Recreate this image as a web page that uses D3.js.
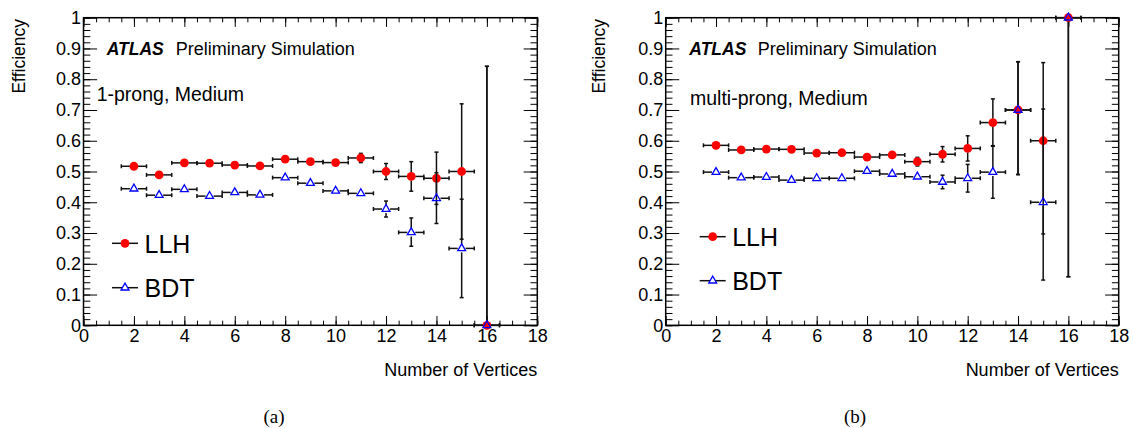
<!DOCTYPE html>
<html>
<head>
<meta charset="utf-8">
<script src="https://cdn.jsdelivr.net/npm/d3@7/dist/d3.min.js"></script>
<style>
  html, body { margin: 0; padding: 0; background: #fff; }
  svg { display: block; }
  text { font-family: "Liberation Sans", Arial, sans-serif; fill: #000; }
</style>
</head>
<body>
<svg id="chart" width="1133" height="428"></svg>
<script>
// Number of reconstructed vertices (bin centres, bin width 1)
const vertices = [2, 3, 4, 5, 6, 7, 8, 9, 10, 11, 12, 13, 14, 15, 16];

// 1-prong, Medium working point
const llhOneProng        = [0.517, 0.489, 0.528, 0.527, 0.521, 0.518, 0.540, 0.532, 0.529, 0.544, 0.500, 0.484, 0.478, 0.500, 0.0];
const llhOneProngErrUp   = [0.006, 0.006, 0.006, 0.006, 0.006, 0.006, 0.007, 0.008, 0.009, 0.015, 0.026, 0.048, 0.085, 0.220, 0.842];
const llhOneProngErrDown = [0.006, 0.006, 0.006, 0.006, 0.006, 0.006, 0.007, 0.008, 0.009, 0.015, 0.026, 0.048, 0.085, 0.220, 0.0];
const bdtOneProng        = [0.444, 0.423, 0.442, 0.420, 0.432, 0.424, 0.480, 0.462, 0.437, 0.429, 0.378, 0.302, 0.413, 0.250, 0.0];
const bdtOneProngErrUp   = [0.006, 0.006, 0.006, 0.006, 0.006, 0.007, 0.008, 0.009, 0.010, 0.013, 0.026, 0.047, 0.083, 0.160, 0.842];
const bdtOneProngErrDown = [0.006, 0.006, 0.006, 0.006, 0.006, 0.007, 0.008, 0.009, 0.010, 0.013, 0.026, 0.045, 0.082, 0.160, 0.0];

// multi-prong, Medium working point
const llhMultiProng        = [0.585, 0.570, 0.573, 0.572, 0.560, 0.561, 0.547, 0.554, 0.532, 0.556, 0.575, 0.659, 0.700, 0.600, 1.0];
const llhMultiProngErrUp   = [0.006, 0.006, 0.006, 0.006, 0.007, 0.007, 0.008, 0.010, 0.014, 0.025, 0.041, 0.077, 0.157, 0.254, 0.0];
const llhMultiProngErrDown = [0.006, 0.006, 0.006, 0.006, 0.007, 0.007, 0.008, 0.010, 0.014, 0.025, 0.041, 0.077, 0.210, 0.303, 0.842];
const bdtMultiProng        = [0.498, 0.480, 0.482, 0.472, 0.478, 0.478, 0.501, 0.492, 0.483, 0.466, 0.478, 0.498, 0.700, 0.400, 1.0];
const bdtMultiProngErrUp   = [0.006, 0.006, 0.006, 0.006, 0.006, 0.006, 0.008, 0.009, 0.011, 0.022, 0.045, 0.086, 0.157, 0.303, 0.0];
const bdtMultiProngErrDown = [0.006, 0.006, 0.006, 0.006, 0.006, 0.006, 0.008, 0.009, 0.011, 0.022, 0.045, 0.085, 0.210, 0.253, 0.842];

// Axis ticks
const xTicks = [0, 2, 4, 6, 8, 10, 12, 14, 16, 18];
const xMinorTicks = d3.range(0, 18.001, 0.5);
const yTicks = [0, 0.1, 0.2, 0.3, 0.4, 0.5, 0.6, 0.7, 0.8, 0.9, 1];
const yMinorTicks = d3.range(0, 1.0001, 0.02);

const series = {
  a: {
    label: "1-prong, Medium", caption: "(a)",
    llh: { v: llhOneProng, up: llhOneProngErrUp, dn: llhOneProngErrDown },
    bdt: { v: bdtOneProng, up: bdtOneProngErrUp, dn: bdtOneProngErrDown }
  },
  b: {
    label: "multi-prong, Medium", caption: "(b)",
    llh: { v: llhMultiProng, up: llhMultiProngErrUp, dn: llhMultiProngErrDown },
    bdt: { v: bdtMultiProng, up: bdtMultiProngErrUp, dn: bdtMultiProngErrDown }
  }
};

const svg = d3.select("#chart");

const layout = [
  { key: "a", left: 83.5, right: 537.3, titleX: 25, atlasX: 106.7, prelimX: 175.7, labelX: 96.7, labelY: 101,
    legX: 125, legY: [243.3, 287.7], captionX: 274 },
  { key: "b", left: 665.7, right: 1118.7, titleX: 605, atlasX: 689.3, prelimX: 757.7, labelX: 690, labelY: 104.5,
    legX: 712.7, legY: [236.7, 280.7], captionX: 855 }
];
const plotTop = 17.7, plotBottom = 325.3;

const fmtY = d => String(+d.toFixed(1));

function drawPanel(cfg) {
  const s = series[cfg.key];
  const x = d3.scaleLinear().domain([0, 18]).range([cfg.left, cfg.right]);
  const y = d3.scaleLinear().domain([0, 1]).range([plotBottom, plotTop]);
  const w = cfg.right - cfg.left, h = plotBottom - plotTop;
  const yMaj = 0.03 * w, xMaj = 0.03 * h;

  const g = svg.append("g");

  // Ticks on all four sides, pointing into the frame
  const styleAxis = sel => {
    sel.select(".domain").remove();
    sel.selectAll("line").attr("stroke", "#000").attr("stroke-width", 1);
    sel.selectAll("text").style("font-family", "Liberation Sans, Arial, sans-serif")
      .style("font-size", "18px").attr("fill", "#000");
  };
  g.append("g").attr("transform", `translate(${cfg.left},0)`)
    .call(d3.axisLeft(y).tickValues(yMinorTicks).tickSize(-yMaj / 2).tickFormat("")).call(styleAxis);
  g.append("g").attr("transform", `translate(${cfg.left},0)`)
    .call(d3.axisLeft(y).tickValues(yTicks).tickSize(-yMaj).tickPadding(2.5).tickFormat(fmtY)).call(styleAxis);
  g.append("g").attr("transform", `translate(${cfg.right},0)`)
    .call(d3.axisRight(y).tickValues(yMinorTicks).tickSize(-yMaj / 2).tickFormat("")).call(styleAxis);
  g.append("g").attr("transform", `translate(${cfg.right},0)`)
    .call(d3.axisRight(y).tickValues(yTicks).tickSize(-yMaj).tickFormat("")).call(styleAxis);
  g.append("g").attr("transform", `translate(0,${plotBottom})`)
    .call(d3.axisBottom(x).tickValues(xMinorTicks).tickSize(-xMaj / 2).tickFormat("")).call(styleAxis);
  g.append("g").attr("transform", `translate(0,${plotBottom})`)
    .call(d3.axisBottom(x).tickValues(xTicks).tickSize(-xMaj).tickPadding(3.5).tickFormat(d3.format("d"))).call(styleAxis);
  g.append("g").attr("transform", `translate(0,${plotTop})`)
    .call(d3.axisTop(x).tickValues(xMinorTicks).tickSize(-xMaj / 2).tickFormat("")).call(styleAxis);
  g.append("g").attr("transform", `translate(0,${plotTop})`)
    .call(d3.axisTop(x).tickValues(xTicks).tickSize(-xMaj).tickFormat("")).call(styleAxis);

  // Frame
  g.append("rect").attr("x", cfg.left).attr("y", plotTop).attr("width", w).attr("height", h)
    .attr("fill", "none").attr("stroke", "#000").attr("stroke-width", 1.5);

  // Axis titles
  g.append("text").attr("transform", `translate(${cfg.titleX},19) rotate(-90)`)
    .attr("text-anchor", "end").style("font-size", "17.5px").text("Efficiency");
  g.append("text").attr("x", cfg.right).attr("y", 376).attr("text-anchor", "end")
    .style("font-size", "18px").text("Number of Vertices");

  // ATLAS label and selection text
  g.append("text").attr("x", cfg.atlasX).attr("y", 55).style("font-size", "17.5px")
    .style("font-weight", "bold").style("font-style", "italic").text("ATLAS");
  g.append("text").attr("x", cfg.prelimX).attr("y", 55).style("font-size", "18px").text("Preliminary Simulation");
  g.append("text").attr("x", cfg.labelX).attr("y", cfg.labelY).style("font-size", "19.5px").text(s.label);

  // Error bars with a small gap around each marker, ROOT style
  const gap = 4, cap = 2;
  function errorBars(d) {
    const eg = g.append("g").attr("stroke", "#111").attr("stroke-width", 1.5).attr("fill", "none");
    vertices.forEach((vx, i) => {
      const cx = x(vx), cy = y(d.v[i]);
      const xl = x(vx - 0.5), xr = x(vx + 0.5);
      const yt = y(d.v[i] + d.up[i]), yb = y(d.v[i] - d.dn[i]);
      const segs = [];
      segs.push([xl, cy, cx - gap, cy], [cx + gap, cy, xr, cy]);
      segs.push([xl, cy - cap, xl, cy + cap], [xr, cy - cap, xr, cy + cap]);
      if (cy - yt > gap) segs.push([cx, cy - gap, cx, yt], [cx - cap, yt, cx + cap, yt]);
      if (yb - cy > gap) segs.push([cx, cy + gap, cx, yb], [cx - cap, yb, cx + cap, yb]);
      eg.selectAll(null).data(segs).join("line")
        .attr("x1", p => p[0]).attr("y1", p => p[1]).attr("x2", p => p[2]).attr("y2", p => p[3]);
    });
  }

  const triangle = d3.symbol().type(d3.symbolTriangle).size(27);

  errorBars(s.llh);
  g.append("g").selectAll("circle").data(vertices).join("circle")
    .attr("cx", vx => x(vx)).attr("cy", (vx, i) => y(s.llh.v[i])).attr("r", 4.4).attr("fill", "#ff0000");

  errorBars(s.bdt);
  g.append("g").selectAll("path").data(vertices).join("path")
    .attr("d", triangle)
    .attr("transform", (vx, i) => `translate(${x(vx)},${y(s.bdt.v[i])})`)
    .attr("fill", "none").attr("stroke", "#0000ff").attr("stroke-width", 1.3);

  // Legend
  const leg = g.append("g");
  [["LLH", "circle"], ["BDT", "triangle"]].forEach(([name, kind], k) => {
    const ly = cfg.legY[k];
    leg.append("line").attr("x1", cfg.legX - 13).attr("x2", cfg.legX + 13).attr("y1", ly).attr("y2", ly)
      .attr("stroke", "#111").attr("stroke-width", 1.5);
    if (kind === "circle") {
      leg.append("circle").attr("cx", cfg.legX).attr("cy", ly).attr("r", 4.4).attr("fill", "#ff0000");
    } else {
      leg.append("path").attr("d", triangle).attr("transform", `translate(${cfg.legX},${ly})`)
        .attr("fill", "#fff").attr("stroke", "#0000ff").attr("stroke-width", 1.3);
    }
    leg.append("text").attr("x", cfg.legX + 19.5).attr("y", ly + 9.5).style("font-size", "25px").text(name);
  });

  // Sub-figure caption
  svg.append("text").attr("x", cfg.captionX).attr("y", 423).attr("text-anchor", "middle")
    .style("font-family", "Liberation Serif, Times New Roman, serif").style("font-size", "19px").text(s.caption);
}

layout.forEach(drawPanel);
</script>
</body>
</html>
